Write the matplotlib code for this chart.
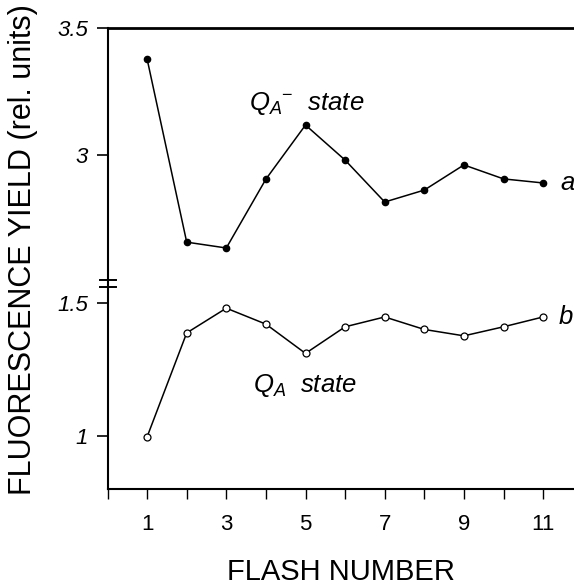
import matplotlib
matplotlib.use('Agg')
import matplotlib.pyplot as plt

plt.rcParams['font.family'] = ['Liberation Sans', 'DejaVu Sans']
plt.rcParams['mathtext.fontset'] = 'custom'
plt.rcParams['mathtext.it'] = 'Liberation Sans:italic'
plt.rcParams['mathtext.rm'] = 'Liberation Sans'
plt.rcParams['mathtext.default'] = 'it'

# data
flash = [1, 2, 3, 4, 5, 6, 7, 8, 9, 10, 11]
yield_a = [3.378, 2.657, 2.634, 2.905, 3.118, 2.98, 2.815, 2.862, 2.961, 2.906, 2.89]
yield_b = [0.996, 1.387, 1.48, 1.42, 1.31, 1.41, 1.447, 1.40, 1.376, 1.41, 1.447]

top_ticks = [3, 3.5]
top_labels = ['3', '3.5']
bot_ticks = [1, 1.5]
bot_labels = ['1', '1.5']
x_ticks = list(range(0, 12))
x_labels = [str(i) if i % 2 == 1 else '' for i in x_ticks]

W, H = 574, 585
fig = plt.figure(figsize=(W / 100, H / 100), dpi=100)

left = 107.5 / W
width = 1 - left
ax_top = fig.add_axes([left, 1 - 280 / H, width, 252 / H])
ax_bot = fig.add_axes([left, 1 - 489 / H, width, 209 / H])

for ax in (ax_top, ax_bot):
    ax.set_xlim(0, 11.78)
    ax.set_facecolor('none')
    ax.spines['right'].set_visible(False)
    ax.spines['left'].set_linewidth(1.5)
    ax.tick_params(axis='y', direction='out', length=8, width=1.2, pad=6)

# top panel
ax_top.set_ylim(2.508, 3.5)
ax_top.spines['bottom'].set_visible(False)
ax_top.spines['top'].set_linewidth(2)
ax_top.set_xticks([])
ax_top.set_yticks(top_ticks)
ax_top.set_yticklabels(top_labels, fontstyle='italic', fontsize=16)
ax_top.plot(flash, yield_a, color='black', lw=1.1, marker='o', ms=4.5,
            mfc='black', mec='black')
ax_top.text(3.57, 3.177, r'$Q_A{}^{-}$  state', fontsize=18.5,
            fontstyle='italic', va='baseline', ha='left')
ax_top.text(11.43, yield_a[-1], 'a', fontsize=18.5, fontstyle='italic',
            va='center', ha='left')

# bottom panel
ax_bot.set_ylim(0.80, 1.586)
ax_bot.spines['top'].set_visible(False)
ax_bot.spines['bottom'].set_linewidth(1.5)
ax_bot.set_yticks(bot_ticks)
ax_bot.set_yticklabels(bot_labels, fontstyle='italic', fontsize=16)
ax_bot.set_xticks(x_ticks)
ax_bot.set_xticklabels(x_labels, fontsize=16)
ax_bot.tick_params(axis='x', direction='out', length=7, width=1.0, pad=11)
ax_bot.plot(flash, yield_b, color='black', lw=1.1, marker='o', ms=5,
            mfc='white', mec='black', mew=0.9)
ax_bot.text(3.67, 1.165, r'$Q_A$  state', fontsize=18.5, fontstyle='italic',
            va='baseline', ha='left')
ax_bot.text(11.38, yield_b[-1], 'b', fontsize=18.5, fontstyle='italic',
            va='center', ha='left')

# axis break marks
for yy in (1.0, 1 - 7 / 209):
    ax_bot.plot([-0.016, 0.018], [yy, yy], color='black', lw=1.4,
                transform=ax_bot.transAxes, clip_on=False)

fig.text(0.040, 1 - 250 / H, 'FLUORESCENCE YIELD (rel. units)', rotation=90,
         fontsize=22, ha='center', va='center')
fig.text(0.594, 1 - 580 / H, 'FLASH NUMBER', fontsize=21, ha='center',
         va='baseline')

fig.savefig('out.png', dpi=100)
